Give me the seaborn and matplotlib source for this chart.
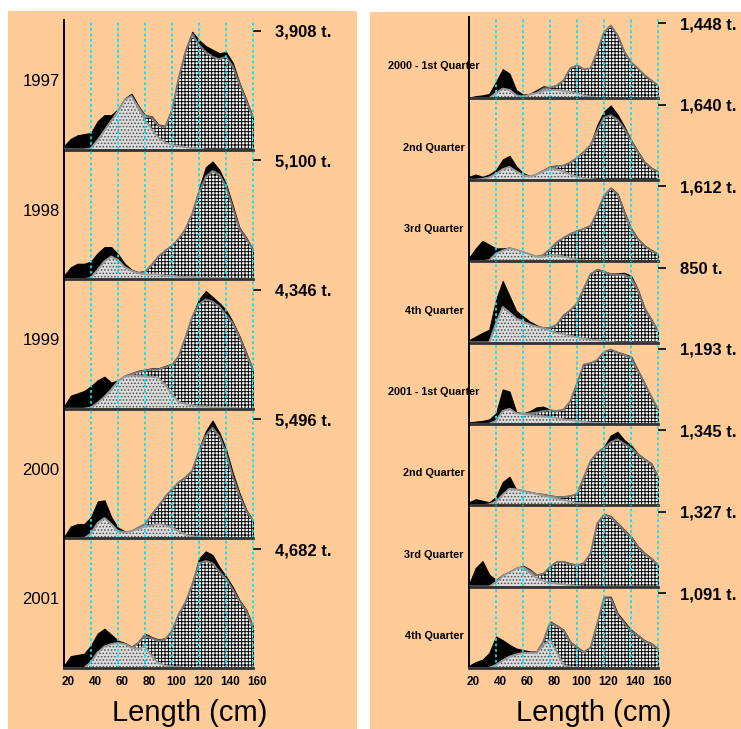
import matplotlib
matplotlib.use("Agg")
import matplotlib.pyplot as plt
import matplotlib.transforms as mtransforms
from matplotlib.patches import Rectangle
import seaborn as sns

# length classes (cm)
lengths = list(range(20, 161, 5))

# ---- yearly panels (fraction of panel max) ----
tot_1997 = [0.03, 0.09, 0.12, 0.13, 0.14, 0.24, 0.29, 0.29, 0.34, 0.43, 0.47, 0.37, 0.29, 0.28, 0.21,
            0.20, 0.34, 0.62, 0.84, 0.99, 0.92, 0.87, 0.84, 0.81, 0.82, 0.73, 0.56, 0.42, 0.27]
big_1997 = [0, 0, 0, 0, 0.01, 0.08, 0.16, 0.24, 0.32, 0.40, 0.43, 0.36, 0.28, 0.27, 0.20,
            0.19, 0.33, 0.60, 0.82, 0.97, 0.88, 0.82, 0.78, 0.76, 0.78, 0.70, 0.55, 0.41, 0.27]
small_1997 = [0, 0, 0, 0, 0.01, 0.08, 0.16, 0.24, 0.32, 0.42, 0.45, 0.35, 0.25, 0.17, 0.10,
              0.06, 0.04, 0.03, 0.02, 0.01, 0.01, 0, 0, 0, 0, 0, 0, 0, 0]

tot_1998 = [0.03, 0.10, 0.13, 0.13, 0.15, 0.22, 0.27, 0.27, 0.21, 0.13, 0.08, 0.06, 0.07, 0.13, 0.20,
            0.24, 0.28, 0.34, 0.43, 0.56, 0.76, 0.94, 0.99, 0.92, 0.80, 0.62, 0.43, 0.35, 0.25]
big_1998 = [0, 0, 0, 0, 0.01, 0.08, 0.15, 0.19, 0.16, 0.10, 0.07, 0.05, 0.06, 0.12, 0.19,
            0.24, 0.28, 0.34, 0.42, 0.55, 0.73, 0.86, 0.91, 0.88, 0.78, 0.60, 0.42, 0.34, 0.25]
small_1998 = [0, 0, 0, 0, 0.01, 0.08, 0.15, 0.19, 0.16, 0.10, 0.07, 0.05, 0.04, 0.04, 0.04,
              0.03, 0.03, 0.02, 0.02, 0.02, 0.01, 0.01, 0.01, 0.01, 0.01, 0, 0, 0, 0]

tot_1999 = [0.02, 0.11, 0.13, 0.15, 0.19, 0.24, 0.27, 0.22, 0.24, 0.28, 0.30, 0.32, 0.33, 0.34, 0.34,
            0.36, 0.38, 0.45, 0.61, 0.78, 0.92, 0.99, 0.94, 0.89, 0.83, 0.73, 0.61, 0.47, 0.33]
big_1999 = [0, 0, 0, 0, 0.01, 0.05, 0.10, 0.16, 0.23, 0.27, 0.29, 0.31, 0.32, 0.33, 0.33,
            0.35, 0.37, 0.44, 0.60, 0.77, 0.88, 0.92, 0.90, 0.86, 0.79, 0.72, 0.60, 0.46, 0.33]
small_1999 = [0, 0, 0, 0, 0.01, 0.05, 0.10, 0.16, 0.23, 0.27, 0.28, 0.28, 0.27, 0.27, 0.26,
              0.20, 0.12, 0.06, 0.04, 0.03, 0.02, 0.02, 0.01, 0.01, 0.01, 0.01, 0, 0, 0]

tot_2000 = [0.01, 0.10, 0.12, 0.12, 0.18, 0.31, 0.32, 0.18, 0.09, 0.06, 0.06, 0.09, 0.12, 0.21, 0.28,
            0.36, 0.42, 0.48, 0.52, 0.58, 0.75, 0.90, 0.99, 0.89, 0.75, 0.55, 0.38, 0.24, 0.15]
big_2000 = [0, 0, 0, 0, 0.04, 0.13, 0.17, 0.12, 0.06, 0.05, 0.06, 0.09, 0.12, 0.20, 0.27,
            0.35, 0.41, 0.47, 0.51, 0.57, 0.73, 0.86, 0.93, 0.86, 0.72, 0.52, 0.36, 0.23, 0.15]
small_2000 = [0, 0, 0, 0, 0.04, 0.13, 0.17, 0.12, 0.06, 0.05, 0.06, 0.08, 0.10, 0.11, 0.12,
              0.11, 0.09, 0.06, 0.03, 0.02, 0.01, 0.01, 0, 0, 0, 0, 0, 0, 0]

tot_2001 = [0.02, 0.10, 0.11, 0.12, 0.19, 0.29, 0.33, 0.28, 0.23, 0.21, 0.18, 0.22, 0.29, 0.26, 0.24,
            0.25, 0.32, 0.46, 0.56, 0.71, 0.92, 0.98, 0.95, 0.85, 0.77, 0.68, 0.57, 0.49, 0.35]
big_2001 = [0, 0, 0, 0, 0.05, 0.13, 0.18, 0.20, 0.21, 0.20, 0.17, 0.21, 0.27, 0.25, 0.23,
            0.24, 0.31, 0.45, 0.55, 0.70, 0.88, 0.90, 0.88, 0.81, 0.75, 0.66, 0.56, 0.48, 0.34]
small_2001 = [0, 0, 0, 0, 0.05, 0.13, 0.18, 0.20, 0.21, 0.20, 0.17, 0.16, 0.18, 0.10, 0.04,
              0.02, 0.01, 0.01, 0, 0, 0, 0, 0, 0, 0, 0, 0, 0, 0]

# ---- quarterly panels ----
tot_q1_00 = [0.01, 0.03, 0.04, 0.06, 0.22, 0.39, 0.33, 0.11, 0.05, 0.06, 0.11, 0.16, 0.15, 0.18, 0.24,
             0.40, 0.44, 0.39, 0.40, 0.62, 0.88, 0.97, 0.84, 0.62, 0.48, 0.40, 0.31, 0.24, 0.17]
big_q1_00 = [0, 0, 0, 0, 0.07, 0.13, 0.11, 0.04, 0.02, 0.05, 0.07, 0.13, 0.14, 0.17, 0.24,
             0.40, 0.44, 0.39, 0.40, 0.62, 0.88, 0.97, 0.84, 0.62, 0.48, 0.40, 0.31, 0.24, 0.17]
small_q1_00 = [0, 0, 0, 0, 0.07, 0.13, 0.11, 0.04, 0.02, 0.05, 0.07, 0.10, 0.11, 0.11, 0.10,
               0.09, 0.07, 0.04, 0.02, 0.01, 0.01, 0, 0, 0, 0, 0, 0, 0, 0]

tot_q2_00 = [0.04, 0.07, 0.04, 0.07, 0.13, 0.27, 0.32, 0.18, 0.09, 0.05, 0.07, 0.13, 0.18, 0.19, 0.19,
             0.24, 0.30, 0.38, 0.47, 0.73, 0.91, 0.99, 0.87, 0.71, 0.53, 0.38, 0.24, 0.16, 0.11]
big_q2_00 = [0, 0, 0.01, 0.03, 0.08, 0.14, 0.17, 0.11, 0.06, 0.04, 0.07, 0.12, 0.16, 0.18, 0.19,
             0.23, 0.29, 0.37, 0.46, 0.66, 0.83, 0.86, 0.80, 0.68, 0.52, 0.37, 0.23, 0.15, 0.11]
small_q2_00 = [0, 0, 0.01, 0.03, 0.08, 0.14, 0.17, 0.11, 0.06, 0.04, 0.07, 0.11, 0.15, 0.14, 0.11,
               0.07, 0.04, 0.02, 0.01, 0, 0, 0, 0, 0, 0, 0, 0, 0, 0]

tot_q3_00 = [0.04, 0.17, 0.27, 0.22, 0.17, 0.17, 0.18, 0.15, 0.12, 0.09, 0.06, 0.08, 0.17, 0.26, 0.32,
             0.37, 0.41, 0.44, 0.48, 0.66, 0.88, 0.98, 0.90, 0.66, 0.44, 0.30, 0.21, 0.15, 0.10]
big_q3_00 = [0, 0, 0, 0.01, 0.10, 0.14, 0.17, 0.15, 0.12, 0.09, 0.06, 0.08, 0.16, 0.25, 0.31,
             0.36, 0.40, 0.43, 0.47, 0.65, 0.87, 0.97, 0.89, 0.65, 0.43, 0.29, 0.20, 0.14, 0.09]
small_q3_00 = [0, 0, 0, 0.01, 0.10, 0.14, 0.17, 0.15, 0.12, 0.09, 0.06, 0.06, 0.08, 0.08, 0.06,
               0.04, 0.02, 0.01, 0, 0, 0, 0, 0, 0, 0, 0, 0, 0, 0]

tot_q4_00 = [0.03, 0.08, 0.13, 0.17, 0.57, 0.82, 0.62, 0.42, 0.35, 0.28, 0.23, 0.20, 0.20, 0.25, 0.37,
             0.44, 0.53, 0.73, 0.92, 0.98, 0.95, 0.92, 0.92, 0.93, 0.89, 0.71, 0.46, 0.31, 0.15]
big_q4_00 = [0, 0, 0, 0, 0.25, 0.47, 0.40, 0.32, 0.28, 0.24, 0.21, 0.19, 0.19, 0.24, 0.36,
             0.43, 0.52, 0.72, 0.91, 0.97, 0.94, 0.91, 0.90, 0.90, 0.86, 0.70, 0.45, 0.30, 0.15]
small_q4_00 = [0, 0, 0, 0, 0.25, 0.47, 0.40, 0.32, 0.28, 0.24, 0.21, 0.19, 0.16, 0.13, 0.11,
               0.09, 0.07, 0.05, 0.04, 0.03, 0.02, 0.01, 0, 0, 0, 0, 0, 0, 0]

tot_q1_01 = [0.02, 0.03, 0.04, 0.06, 0.14, 0.46, 0.43, 0.16, 0.14, 0.17, 0.22, 0.23, 0.19, 0.17, 0.19,
             0.30, 0.54, 0.79, 0.81, 0.85, 0.96, 0.99, 0.96, 0.93, 0.90, 0.72, 0.54, 0.36, 0.19]
big_q1_01 = [0, 0, 0, 0, 0.04, 0.17, 0.20, 0.14, 0.13, 0.14, 0.15, 0.17, 0.18, 0.17, 0.19,
             0.30, 0.54, 0.79, 0.81, 0.85, 0.96, 0.99, 0.95, 0.92, 0.88, 0.71, 0.54, 0.36, 0.19]
small_q1_01 = [0, 0, 0, 0, 0.04, 0.17, 0.20, 0.14, 0.13, 0.12, 0.11, 0.10, 0.09, 0.08, 0.06,
               0.05, 0.04, 0.03, 0.02, 0.01, 0.01, 0, 0, 0, 0, 0, 0, 0, 0]

tot_q2_01 = [0.04, 0.08, 0.06, 0.04, 0.11, 0.31, 0.38, 0.21, 0.19, 0.18, 0.16, 0.15, 0.13, 0.12, 0.12,
             0.13, 0.16, 0.38, 0.60, 0.71, 0.78, 0.93, 0.98, 0.87, 0.80, 0.69, 0.62, 0.56, 0.38]
big_q2_01 = [0, 0, 0, 0.01, 0.05, 0.14, 0.22, 0.21, 0.19, 0.17, 0.15, 0.14, 0.12, 0.11, 0.11,
             0.12, 0.15, 0.37, 0.59, 0.70, 0.76, 0.84, 0.88, 0.82, 0.76, 0.68, 0.61, 0.55, 0.38]
small_q2_01 = [0, 0, 0, 0.01, 0.05, 0.14, 0.22, 0.21, 0.19, 0.17, 0.15, 0.13, 0.11, 0.09, 0.07,
               0.05, 0.03, 0.02, 0.01, 0, 0, 0, 0, 0, 0, 0, 0, 0, 0]

tot_q3_01 = [0.03, 0.25, 0.34, 0.16, 0.09, 0.16, 0.20, 0.25, 0.28, 0.23, 0.16, 0.18, 0.27, 0.34, 0.34,
             0.31, 0.29, 0.32, 0.45, 0.85, 0.97, 0.94, 0.85, 0.76, 0.67, 0.54, 0.45, 0.38, 0.29]
big_q3_01 = [0, 0, 0, 0, 0.06, 0.14, 0.19, 0.24, 0.26, 0.21, 0.15, 0.17, 0.26, 0.33, 0.33,
             0.30, 0.28, 0.31, 0.44, 0.84, 0.96, 0.93, 0.84, 0.75, 0.66, 0.53, 0.44, 0.37, 0.28]
small_q3_01 = [0, 0, 0, 0, 0.06, 0.14, 0.19, 0.24, 0.26, 0.18, 0.12, 0.08, 0.05, 0.04, 0.03,
               0.02, 0.01, 0, 0, 0, 0, 0, 0, 0, 0, 0, 0, 0, 0]

tot_q4_01 = [0.03, 0.08, 0.11, 0.20, 0.42, 0.37, 0.31, 0.26, 0.24, 0.22, 0.22, 0.37, 0.62, 0.57, 0.51,
             0.35, 0.28, 0.22, 0.28, 0.60, 0.95, 0.95, 0.73, 0.62, 0.51, 0.44, 0.37, 0.33, 0.26]
big_q4_01 = [0, 0, 0, 0, 0.04, 0.10, 0.15, 0.18, 0.20, 0.20, 0.20, 0.35, 0.60, 0.56, 0.50,
             0.34, 0.27, 0.21, 0.27, 0.59, 0.93, 0.93, 0.71, 0.60, 0.49, 0.43, 0.36, 0.32, 0.25]
small_q4_01 = [0, 0, 0, 0, 0.04, 0.10, 0.15, 0.18, 0.20, 0.20, 0.20, 0.30, 0.38, 0.22, 0.04,
               0.01, 0, 0, 0, 0, 0, 0, 0, 0, 0, 0, 0, 0, 0]

year_names = ["1997", "1998", "1999", "2000", "2001"]
year_tonnes = ["3,908 t.", "5,100 t.", "4,346 t.", "5,496 t.", "4,682 t."]
year_series = [(tot_1997, big_1997, small_1997), (tot_1998, big_1998, small_1998),
               (tot_1999, big_1999, small_1999), (tot_2000, big_2000, small_2000),
               (tot_2001, big_2001, small_2001)]

quarter_names = ["2000 - 1st Quarter", "2nd Quarter", "3rd Quarter", "4th Quarter",
                 "2001 - 1st Quarter", "2nd Quarter", "3rd Quarter", "4th Quarter"]
quarter_tonnes = ["1,448 t.", "1,640 t.", "1,612 t.", "850 t.",
                  "1,193 t.", "1,345 t.", "1,327 t.", "1,091 t."]
quarter_series = [(tot_q1_00, big_q1_00, small_q1_00), (tot_q2_00, big_q2_00, small_q2_00),
                  (tot_q3_00, big_q3_00, small_q3_00), (tot_q4_00, big_q4_00, small_q4_00),
                  (tot_q1_01, big_q1_01, small_q1_01), (tot_q2_01, big_q2_01, small_q2_01),
                  (tot_q3_01, big_q3_01, small_q3_01), (tot_q4_01, big_q4_01, small_q4_01)]

xticks = [20, 40, 60, 80, 100, 120, 140, 160]
guides = [40, 60, 80, 100, 120, 140, 160]

sns.set_theme(style="white")
plt.rcParams['font.family'] = ['Liberation Sans', 'DejaVu Sans']
plt.rcParams['hatch.linewidth'] = 0.7
plt.rcParams['text.color'] = 'black'
plt.rcParams['xtick.color'] = 'black'
plt.rcParams['ytick.color'] = 'black'

W, H = 741, 729
PEACH = "#FFCC99"
fig = plt.figure(figsize=(W / 100, H / 100), dpi=100, facecolor="white")

# peach backgrounds of the two halves
fig.patches.append(Rectangle((8 / W, 0), 349 / W, 1 - 11 / H, transform=fig.transFigure,
                             facecolor=PEACH, edgecolor="none", zorder=-10))
fig.patches.append(Rectangle((370 / W, 0), 371 / W, 1 - 12 / H, transform=fig.transFigure,
                             facecolor=PEACH, edgecolor="none", zorder=-10))

shift = mtransforms.ScaledTranslation(4 / 100, 0, fig.dpi_scale_trans)


def draw_panel(ax, series, tonnes, ytop, last):
    tot, big, small = series
    ax.set_facecolor("none")
    ax.fill_between(lengths, tot, color="black", lw=0.8, edgecolor="black", zorder=1)
    ax.fill_between(lengths, big, facecolor="white", edgecolor="black", hatch="+++++",
                    lw=0, zorder=2)
    sns.lineplot(x=lengths, y=big, ax=ax, color="#777777", lw=1.4, zorder=3, legend=False)
    ax.fill_between(lengths, small, facecolor="#dcdcdc", edgecolor="#4a4a4a", hatch=".....",
                    lw=0, zorder=4)
    sns.lineplot(x=lengths, y=small, ax=ax, color="#999999", lw=1.3, zorder=5, legend=False)
    for g in guides:
        ax.axvline(g, color="#00e5ee", ls=(0, (1.5, 1.5)), lw=1.3, zorder=6, clip_on=False)
    ax.set_xlim(20, 160)
    ax.set_ylim(0, ytop)
    ax.set_xlabel("")
    ax.set_ylabel("")
    for s in ["top", "right"]:
        ax.spines[s].set_visible(False)
    ax.spines["left"].set_color("black")
    ax.spines["left"].set_linewidth(1.4)
    ax.spines["bottom"].set_color("#333333")
    ax.spines["bottom"].set_linewidth(2.0)
    ax.spines["bottom"].set_zorder(7)
    ax.yaxis.tick_right()
    ax.set_yticks([1.0])
    ax.set_yticklabels([tonnes], fontsize=12, fontweight="bold")
    ax.tick_params(axis="y", direction="out", length=6, width=1.2, pad=10)
    if last:
        ax.set_xticks(xticks)
        ax.set_xticklabels([str(t) for t in xticks], fontsize=8.5, fontweight="bold")
        ax.tick_params(axis="x", length=0, pad=6)
        for lab in ax.get_xticklabels():
            lab.set_transform(lab.get_transform() + shift)
    else:
        ax.set_xticks([])


# left column: years
top, ph = 20, 129.6
for i, (name, tonnes, series) in enumerate(zip(year_names, year_tonnes, year_series)):
    bottom = top + (i + 1) * ph
    ax = fig.add_axes([64 / W, 1 - bottom / H, 189 / W, ph / H])
    draw_panel(ax, series, tonnes, ph / 119, i == len(year_names) - 1)
    ax.text(-0.122, 0.525, name, transform=ax.transAxes, ha="center", va="center",
            fontsize=12)

# right column: quarters
top, ph = 17, 81.375
for i, (name, tonnes, series) in enumerate(zip(quarter_names, quarter_tonnes, quarter_series)):
    bottom = top + (i + 1) * ph
    ax = fig.add_axes([469 / W, 1 - bottom / H, 189 / W, ph / H])
    draw_panel(ax, series, tonnes, ph / 75, i == len(quarter_names) - 1)
    ax.text(-0.185, 0.393, name, transform=ax.transAxes, ha="center", va="center",
            fontsize=7.8, fontweight="bold", zorder=10)

fig.text(190 / W, 1 - 713 / H, "Length (cm)", ha="center", va="center", fontsize=21)
fig.text(594 / W, 1 - 713 / H, "Length (cm)", ha="center", va="center", fontsize=21)

fig.savefig("out.png", dpi=100, facecolor="white")
